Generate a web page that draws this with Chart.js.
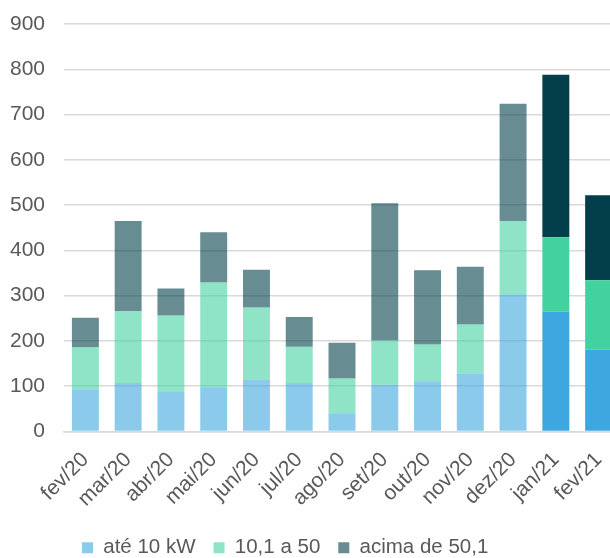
<!DOCTYPE html>
<html>
<head>
<meta charset="utf-8">
<script src="https://cdn.jsdelivr.net/npm/chart.js@4"></script>
<style>
  html, body { margin: 0; padding: 0; background: #fff; overflow: hidden; }
  #wrap { width: 620px; height: 558px; }
</style>
</head>
<body>
<div id="wrap"><canvas id="chart"></canvas></div>
<script>
const months = ["fev/20", "mar/20", "abr/20", "mai/20", "jun/20", "jul/20", "ago/20", "set/20", "out/20", "nov/20", "dez/20", "jan/21", "fev/21"];
const ate10 = [93, 107, 87, 96, 114, 107, 40, 103, 111, 128, 303, 265, 181];
const de10a50 = [93, 159, 169, 233, 160, 80, 77, 98, 81, 108, 162, 164, 153];
const acima50 = [65, 199, 60, 111, 83, 66, 79, 303, 164, 128, 259, 359, 188];

// last two months are drawn solid, the rest faded
const solidFrom = 11;
const shade = (rgb) => months.map((m, i) =>
  i >= solidFrom ? `rgb(${rgb})` : `rgba(${rgb},0.6)`);

const ctx = document.getElementById("chart").getContext("2d");
new Chart(ctx, {
  type: "bar",
  data: {
    labels: months,
    datasets: [
      { label: "até 10 kW", data: ate10, backgroundColor: shade("63,167,224") },
      { label: "10,1 a 50", data: de10a50, backgroundColor: shade("68,209,160") },
      { label: "acima de 50,1", data: acima50, backgroundColor: shade("2,63,74") },
    ],
  },
  options: {
    responsive: true,
    maintainAspectRatio: false,
    animation: false,
    categoryPercentage: 1,
    barPercentage: 0.63,
    layout: { padding: { left: 10, top: 24, right: 0, bottom: -10 } },
    plugins: {
      tooltip: { enabled: false },
      legend: {
        position: "bottom",
        align: "start",
        fullSize: false,
        labels: {
          boxWidth: 11,
          boxHeight: 11,
          padding: 18,
          color: "#595959",
          font: { family: "Liberation Sans, Arial", size: 20.5 },
        },
      },
    },
    scales: {
      x: {
        stacked: true,
        grid: { display: false },
        border: { color: "#d9d9d9", width: 1.5 },
        ticks: {
          color: "#595959",
          font: { family: "Liberation Sans, Arial", size: 21 },
          minRotation: 45,
          maxRotation: 45,
          padding: 8,
        },
        afterFit(scale) {
          scale.paddingLeft = 0;
          scale.paddingRight = 0;
        },
      },
      y: {
        stacked: true,
        min: 0,
        max: 900,
        border: { display: false },
        grid: { color: "#d9d9d9", lineWidth: 1.5, drawTicks: false },
        ticks: {
          stepSize: 100,
          color: "#595959",
          font: { family: "Liberation Sans, Arial", size: 21 },
          padding: 19,
        },
        afterFit(scale) {
          scale.width = 54;
          scale.paddingTop = 0;
        },
      },
    },
  },
});
</script>
</body>
</html>
